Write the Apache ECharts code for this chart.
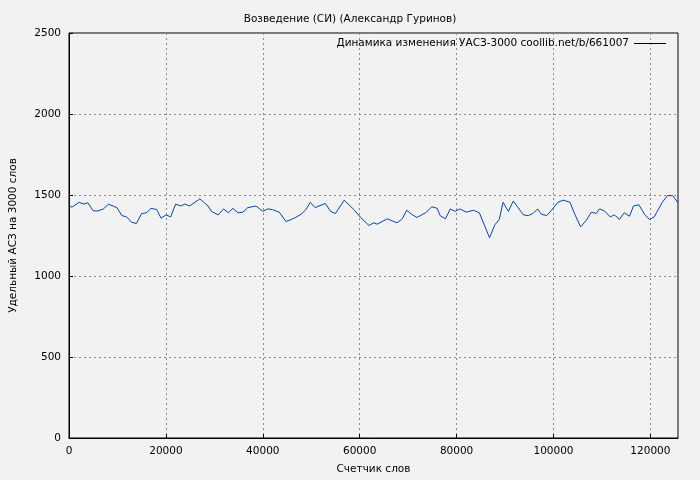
<!DOCTYPE html>
<html><head><meta charset="utf-8">
<script src="https://cdn.jsdelivr.net/npm/echarts@6/dist/echarts.min.js"></script>
<style>html,body{margin:0;padding:0;background:#f2f2f2}#c{width:700px;height:480px}</style>
</head><body><div id="c"></div>
<script>
const words = [0,700,2100,3000,3900,5000,6000,7100,8150,9900,10900,11900,12900,13900,15000,16000,16900,18100,19000,20000,21000,22000,23100,23900,24900,27000,28700,29400,30800,31900,32900,33800,34900,35900,36900,38600,40000,41000,42000,43400,44800,46500,47900,48900,49800,50800,52900,54000,55000,56800,58800,60200,61900,62900,63600,65700,67700,68800,69700,70700,71800,73600,74900,76000,76600,77700,78700,79700,80700,82000,83500,84700,86800,87900,88800,89600,90700,91700,92700,93800,94800,95800,96700,97500,98600,99600,100900,102000,103400,104400,105600,106800,107800,108800,109500,110500,111700,112600,113600,114600,115700,116500,117600,118800,119800,120800,122400,123500,124600,125700];
const uasz = [1427,1427,1455,1444,1452,1402,1402,1414,1443,1422,1373,1365,1332,1324,1386,1390,1418,1410,1357,1377,1365,1444,1432,1444,1432,1476,1432,1399,1377,1414,1390,1418,1390,1394,1422,1432,1399,1414,1410,1394,1336,1357,1381,1410,1455,1422,1448,1399,1386,1468,1410,1361,1312,1328,1320,1353,1328,1353,1406,1381,1361,1390,1427,1418,1373,1353,1414,1399,1414,1394,1406,1390,1236,1316,1349,1455,1399,1463,1422,1377,1373,1386,1414,1381,1373,1406,1455,1468,1455,1381,1303,1345,1394,1386,1414,1402,1365,1377,1349,1390,1369,1432,1440,1381,1349,1365,1452,1496,1496,1452];
const title = 'Возведение (СИ) (Александр Гуринов)';
const seriesName = 'Динамика изменения УАСЗ-3000 coollib.net/b/661007';
const xName = 'Счетчик слов';
const yName = 'Удельный АСЗ на 3000 слов';
const font = 'DejaVu Sans';
const chart = echarts.init(document.getElementById('c'));
chart.setOption({
  backgroundColor:'#f2f2f2',
  animation:false,
  textStyle:{fontFamily:font},
  title:{text:title,left:'center',top:9,textStyle:{fontSize:10.5,fontWeight:'normal',color:'#000',fontFamily:font}},
  legend:{data:[seriesName],right:29,top:33,align:'right',icon:'rect',itemWidth:32,itemHeight:1,itemGap:6,
    itemStyle:{color:'#000'},textStyle:{fontSize:10.5,color:'#000',fontFamily:font}},
  grid:{left:66,right:22,top:33,bottom:40,show:true,borderColor:'#000',borderWidth:1},
  xAxis:{type:'value',min:0,max:125700,interval:20000,name:xName,nameLocation:'middle',nameGap:26,
    nameTextStyle:{fontSize:10.5,color:'#000'},
    axisLine:{lineStyle:{color:'#000'}},axisTick:{inside:true,length:4,lineStyle:{color:'#000'}},
    axisLabel:{fontSize:10.5,color:'#000',showMaxLabel:false,formatter:v=>String(v)},
    splitLine:{lineStyle:{color:'#888',type:[2,3]}}},
  yAxis:{type:'value',min:0,max:2500,interval:500,name:yName,nameLocation:'middle',nameGap:50,
    nameTextStyle:{fontSize:10.5,color:'#000'},
    axisLine:{show:true,lineStyle:{color:'#000'}},axisTick:{show:true,inside:true,length:4,lineStyle:{color:'#000'}},
    axisLabel:{fontSize:10.5,color:'#000',formatter:v=>String(v)},
    splitLine:{lineStyle:{color:'#888',type:[2,3]}}},
  series:[{name:seriesName,type:'line',symbol:'none',data:words.map((w,i)=>[w,uasz[i]]),
    lineStyle:{color:'#0047ab',width:1},itemStyle:{color:'#0047ab'}}]
});
</script></body></html>
